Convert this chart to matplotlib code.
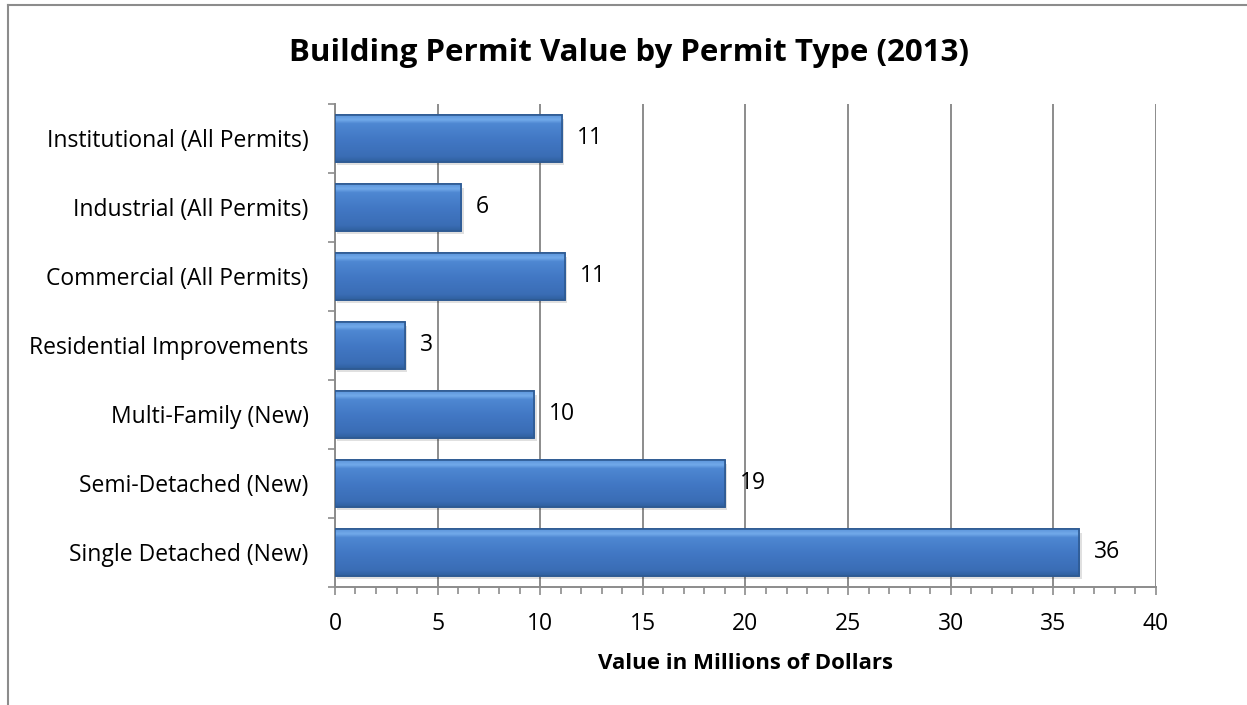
import matplotlib
matplotlib.use("Agg")
import matplotlib.pyplot as plt
import numpy as np
from matplotlib.colors import LinearSegmentedColormap
from matplotlib.ticker import MultipleLocator, FixedLocator, NullFormatter
from matplotlib.lines import Line2D

plt.rcParams['font.family'] = ['Open Sans', 'DejaVu Sans']

categories = ["Single Detached (New)", "Semi-Detached (New)", "Multi-Family (New)",
              "Residential Improvements", "Commercial (All Permits)",
              "Industrial (All Permits)", "Institutional (All Permits)"]
values = [36.27, 18.99, 9.70, 3.41, 11.21, 6.15, 11.06]
title = "Building Permit Value by Permit Type (2013)"
xlabel = "Value in Millions of Dollars"
xticks = [0, 5, 10, 15, 20, 25, 30, 35, 40]

FS = 16.5

fig = plt.figure(figsize=(12.47, 7.05), dpi=100)
ax = fig.add_axes([0.2686, 0.1674, 0.927 - 0.2686, 0.8525 - 0.1674])

y = np.arange(len(categories))
bar_h = 0.67

# shadow
ax.barh(y - 0.05, values, height=bar_h, left=0.12, color="#000000", alpha=0.12,
        zorder=2, linewidth=0)
bars = ax.barh(y, values, height=bar_h, color="#4177C4", edgecolor="#2E5A92",
               linewidth=1.2, zorder=3)

cmap = LinearSegmentedColormap.from_list(
    "bev", [(0.0, "#2F5F9E"), (0.12, "#3A6DB5"), (0.5, "#4278C5"),
            (0.82, "#4E87D2"), (0.9, "#72AAEA"), (1.0, "#5C95DB")])
grad = np.linspace(0, 1, 256).reshape(-1, 1)
for b in bars:
    x0, y0 = b.get_x(), b.get_y()
    w, h = b.get_width(), b.get_height()
    im = ax.imshow(grad, cmap=cmap, aspect="auto", origin="lower",
                   extent=[x0, x0 + w, y0, y0 + h], zorder=3.5,
                   interpolation="bilinear")
    im.set_clip_path(b)
    ax.add_patch(plt.Rectangle((x0, y0), w, h, fill=False, edgecolor="#2E5A92",
                               linewidth=1.2, zorder=4))

for yi, v in zip(y, values):
    ax.text(v + 0.72, yi, f"{round(v):d}", va="center", ha="left",
            fontsize=FS, color="#000000", zorder=5)

ax.set_xlim(0, 40)
ax.set_ylim(-0.5, len(categories) - 0.5)
ax.set_xticks(xticks)
ax.set_xticklabels([str(t) for t in xticks], fontsize=FS)
ax.xaxis.set_minor_locator(MultipleLocator(1))
ax.grid(axis="x", which="major", color="#8C8C8C", linewidth=1.4, zorder=1)
ax.set_axisbelow(True)

ax.set_yticks(y)
ax.set_yticklabels(categories, fontsize=FS)
ax.yaxis.set_minor_locator(FixedLocator(np.arange(-0.5, len(categories), 1.0)))
ax.yaxis.set_minor_formatter(NullFormatter())
ax.tick_params(axis="y", which="major", length=0, pad=19)
ax.tick_params(axis="y", which="minor", length=5, width=1.2, color="#8C8C8C")
ax.tick_params(axis="x", which="major", length=6, width=1.2, color="#8C8C8C", pad=12)
ax.tick_params(axis="x", which="minor", length=5, width=1.2, color="#8C8C8C")

for s in ["top", "right"]:
    ax.spines[s].set_visible(False)
for s in ["left", "bottom"]:
    ax.spines[s].set_color("#8C8C8C")
    ax.spines[s].set_linewidth(1.4)

ax.set_xlabel(xlabel, fontsize=16, fontweight="bold", labelpad=12)
fig.text(0.5045, 0.925, title, ha="center", va="center", fontsize=22.5,
         fontweight="bold")

# outer chart frame (left and top edges visible)
fig.add_artist(Line2D([8 / 1247, 8 / 1247], [0, 1 - 5 / 705], color="#8C8C8C",
                      linewidth=1.5, transform=fig.transFigure))
fig.add_artist(Line2D([8 / 1247, 1], [1 - 5 / 705, 1 - 5 / 705], color="#8C8C8C",
                      linewidth=1.5, transform=fig.transFigure))

fig.savefig("out.png", dpi=100)
